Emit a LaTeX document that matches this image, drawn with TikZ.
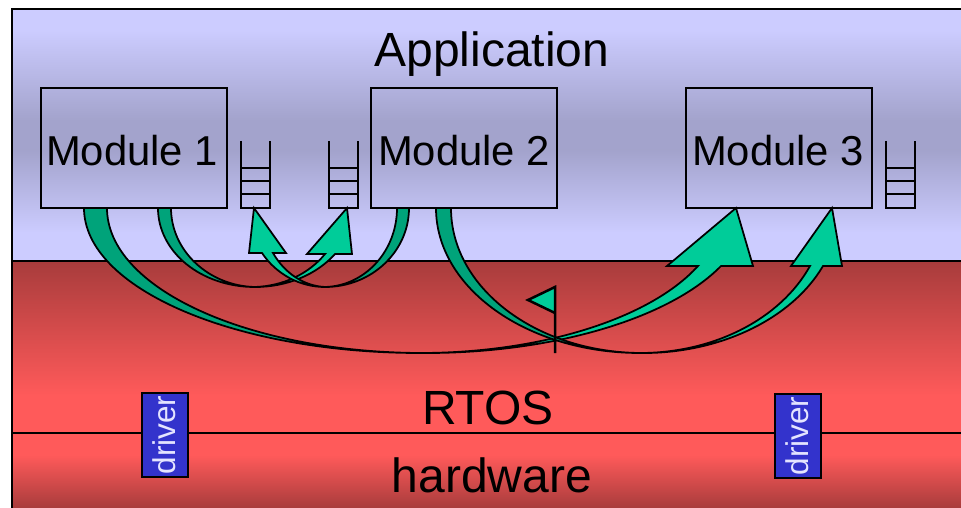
\documentclass[tikz,border=0pt]{standalone}
\usepackage{fontspec}
\setmainfont{Liberation Sans}
\usepackage{tikz}
\usetikzlibrary{positioning}
\definecolor{applight}{HTML}{CCCCFF}
\definecolor{appdark}{HTML}{A3A3CC}
\definecolor{rtosdark}{HTML}{A83C3C}
\definecolor{rtoslight}{HTML}{FF5A5A}
\definecolor{arrowfront}{HTML}{00CC99}
\definecolor{arrowback}{HTML}{00A37A}
\definecolor{driverblue}{HTML}{3333CC}
\definecolor{drivertext}{HTML}{E4E4FF}
\tikzset{
    band/.style={line width=1.75pt},
    modulebox/.style={draw, line width=1.75pt, minimum width=186pt, minimum height=120pt, inner sep=0pt},
    modulelabel/.style={inner sep=0pt, font=\fontsize{41.8}{46}\selectfont},
    layerlabel/.style={inner sep=0pt, font=\fontsize{48}{52}\selectfont},
    driverbox/.style={draw, line width=2pt, fill=driverblue, text=drivertext, rotate=90, minimum width=84pt, minimum height=46pt, inner sep=0pt, font=\fontsize{31.5}{34}\selectfont},
    backarrow/.style={draw, line width=1.75pt, line join=round, fill=arrowback},
    frontarrow/.style={draw, line width=1.75pt, line join=miter, fill=arrowfront},
    queueline/.style={line width=1.75pt}
}
\begin{document}
\begin{tikzpicture}[x=1pt, y=-1pt]
        \useasboundingbox (0,0) rectangle (961,508);
        % background layers
        \shade [top color=applight, bottom color=applight] (12,9) rectangle (961,30.5);
        \shade [top color=applight, bottom color=appdark] (12,30) rectangle (961,120.5);
        \fill [appdark] (12,120) rectangle (961,150.5);
        \shade [top color=appdark, bottom color=applight] (12,150) rectangle (961,232.5);
        \fill [applight] (12,232) rectangle (961,261);
        \shade [top color=rtosdark, bottom color=rtoslight] (12,261) rectangle (961,395.5);
        \fill [rtoslight] (12,395) rectangle (961,455.5);
        \shade [top color=rtoslight, bottom color=rtosdark] (12,455) rectangle (961,508);
        \draw [band] (12,261) -- (961,261);
        \draw [band] (12,433) -- (961,433);
        \draw [line width=2pt] (12,510) -- (12,9.5) -- (961,9.5);
        % labels of the layers
        \node [layerlabel] (application) at (492,54) {Application};
        \node [layerlabel] (rtos) at (488,408) {RTOS};
        \node [layerlabel] (hardware) at (492,475) {hardware};
        % modules
        \node [modulebox] (module1) at (134,148) {};
        \node [modulebox] (module2) at (464,148) {};
        \node [modulebox] (module3) at (779,148) {};
        \node [modulelabel] (label1) at (132,151) {Module 1};
        \node [modulelabel] (label2) at (464,151) {Module 2};
        \node [modulelabel] (label3) at (778,151) {Module 3};
        % queues
        \foreach \x in {241,329,886} {
            \draw [queueline] (\x,141) -- (\x,208) -- (\x+29,208) -- (\x+29,141);
            \foreach \y in {168,181,194}
                \draw [queueline] (\x,\y) -- (\x+29,\y);
        }
        % drivers
        \node [driverbox] (driver1) at (164.5,435) {driver};
        \node [driverbox] (driver2) at (797.5,436) {driver};
        % module 1 to module 3
        \draw [backarrow] (84,208) .. controls (84,288) and (234,353) .. (420,353)
            .. controls (247,352) and (107,288) .. (107,208) -- cycle;
        \draw [frontarrow] (420,353) .. controls (551,354) and (669,319) .. (721,266)
            -- (753,266) -- (736,208) -- (667,266) -- (698,266)
            .. controls (650,319) and (540,353) .. (420,353) -- cycle;
        % module 2 to module 3
        \draw [backarrow] (436,208) .. controls (436,288) and (527,353) .. (640,353)
            .. controls (536,352) and (451,288) .. (451,208) -- cycle;
        \draw [frontarrow] (640,353) .. controls (719,354) and (791.5,319.4) .. (823,266)
            -- (842,266) -- (832,208) -- (791,266) -- (810,266)
            .. controls (780.5,319) and (714,353) .. (640,353) -- cycle;
        % module 1 to queue 2
        \draw [backarrow] (158,208) .. controls (158,252) and (201,287) .. (255,287)
            .. controls (209,286) and (171,251) .. (171,208) -- cycle;
        \draw [frontarrow] (255,287) .. controls (287,287) and (316.5,274.7) .. (335,254)
            -- (352,254) -- (347,208) -- (307,254) -- (325,254)
            .. controls (308.7,274) and (283,286) .. (255,287) -- cycle;
        % module 2 to queue 1
        \draw [backarrow] (409,208) .. controls (409,252) and (371,287) .. (325,287)
            .. controls (365,286) and (397,251) .. (397,208) -- cycle;
        \draw [frontarrow] (325,287) .. controls (300,287) and (276.3,274.3) .. (262,253)
            -- (249,253) -- (254,208) -- (286,253) -- (273,253)
            .. controls (284.9,273.7) and (304.3,286) .. (325,287) -- cycle;
        % flag
        \draw [line width=2.5pt, fill=arrowfront] (555,353) -- (555,287) -- (528,300) -- (555,313);
\end{tikzpicture}
\end{document}
